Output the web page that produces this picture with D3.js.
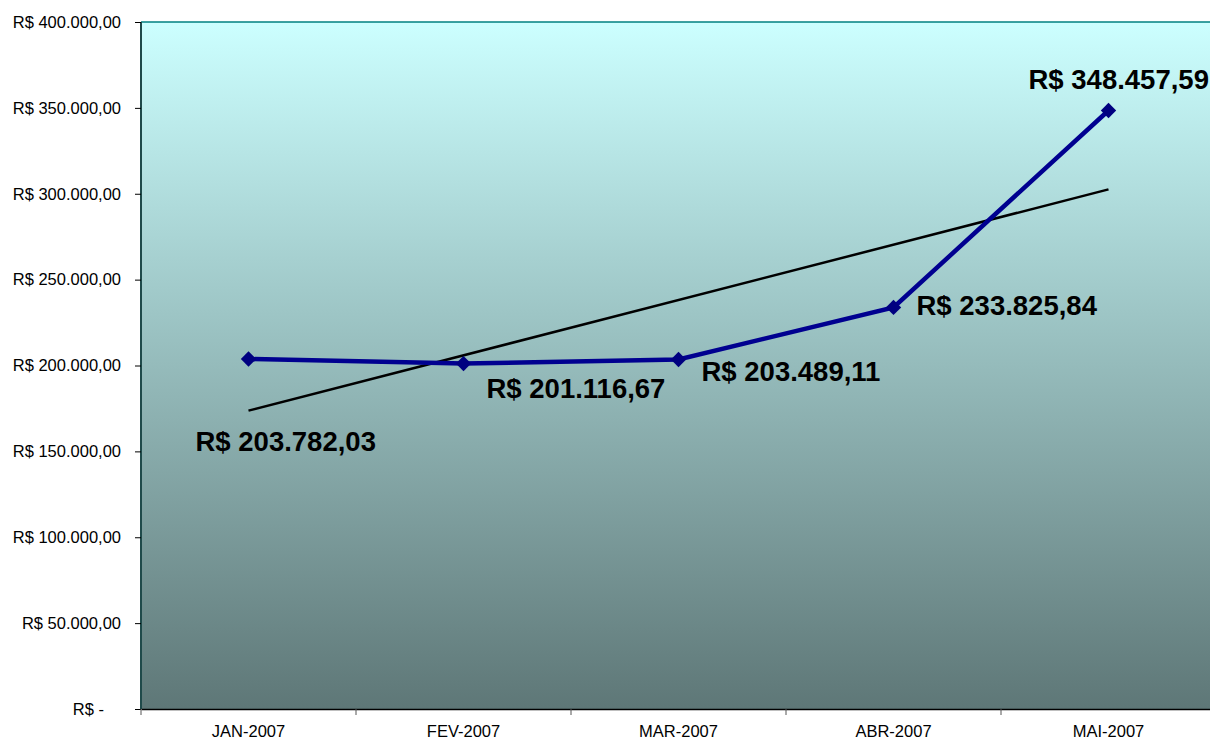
<!DOCTYPE html>
<html>
<head>
<meta charset="utf-8">
<script src="https://cdn.jsdelivr.net/npm/d3@7"></script>
<style>
  body { margin: 0; background: #fff; }
  svg { display: block; font-family: "Liberation Sans", Arial, sans-serif; }
</style>
</head>
<body>
<svg id="chart" width="1210" height="742"></svg>
<script>
// data
var months = ["JAN-2007", "FEV-2007", "MAR-2007", "ABR-2007", "MAI-2007"];
var totals = [203782.03, 201116.67, 203489.11, 233825.84, 348457.59];
var yTicks = [0, 50000, 100000, 150000, 200000, 250000, 300000, 350000, 400000];

// where each value label sits, relative to its point (layout only)
var labelOffsets = [[-53, 92], [23, 34], [23, 21], [23, 8], [-80, -22]];

var svg = d3.select("#chart");
var plotL = 141, plotR = 1216, plotT = 22, plotB = 709;

var x = d3.scaleBand().domain(months).range([plotL, plotR]);
var y = d3.scaleLinear().domain([0, 400000]).range([plotB, plotT]);

// brazilian money format
var br = d3.formatLocale({decimal: ",", thousands: ".", grouping: [3], currency: ["R$ ", ""]});
var money = br.format("$,.2f");
function tickText(v) { return v === 0 ? "R$ -" : money(v); }

// background gradient
var defs = svg.append("defs");
var grad = defs.append("linearGradient").attr("id", "bg")
    .attr("x1", 0).attr("y1", 0).attr("x2", 0).attr("y2", 1);
grad.append("stop").attr("offset", "0%").attr("stop-color", "#ccffff");
grad.append("stop").attr("offset", "100%").attr("stop-color", "#5e7777");

svg.append("rect")
    .attr("x", plotL).attr("y", plotT)
    .attr("width", plotR - plotL).attr("height", plotB - plotT)
    .attr("fill", "url(#bg)");

// top border
svg.append("line")
    .attr("x1", plotL).attr("x2", plotR).attr("y1", plotT).attr("y2", plotT)
    .style("stroke", "#008080").style("stroke-width", 1.5);
// left border
svg.append("line")
    .attr("x1", plotL).attr("x2", plotL).attr("y1", plotT).attr("y2", plotB)
    .style("stroke", "#1f4a4a").style("stroke-width", 2);

// y axis
var yAxis = svg.append("g")
    .attr("transform", "translate(" + plotL + ",0)")
    .call(d3.axisLeft(y).tickValues(yTicks).tickFormat(tickText).tickSize(6).tickPadding(14));
yAxis.select(".domain").remove();
yAxis.selectAll(".tick line").style("stroke", "#000");
yAxis.selectAll("text")
    .style("font-size", "16.5px").style("fill", "#000")
    .attr("dx", function(d) { return d === 0 ? -17 : 0; });

// x axis
var xAxis = svg.append("g")
    .attr("transform", "translate(0," + plotB + ")")
    .call(d3.axisBottom(x).tickSize(0).tickPadding(16));
xAxis.select(".domain").style("stroke", "#000").style("stroke-width", 1.5);
xAxis.selectAll("text").style("font-size", "16.5px").style("fill", "#000");

// category separators
svg.append("g").selectAll("line")
    .data(months)
    .enter().append("line")
    .attr("x1", function(d) { return x(d); })
    .attr("x2", function(d) { return x(d); })
    .attr("y1", plotB).attr("y2", plotB + 6)
    .style("stroke", "#555").style("stroke-width", 1);

var pts = months.map(function(m, i) {
    return {m: m, v: totals[i], cx: x(m) + x.bandwidth() / 2, cy: y(totals[i])};
});

// least squares trend line
var n = totals.length;
var mx = (n + 1) / 2, my = d3.mean(totals);
var sxy = 0, sxx = 0;
totals.forEach(function(v, i) { sxy += (i + 1 - mx) * (v - my); sxx += (i + 1 - mx) * (i + 1 - mx); });
var slope = sxy / sxx, icpt = my - slope * mx;
svg.append("line")
    .attr("x1", pts[0].cx).attr("y1", y(icpt + slope * 1))
    .attr("x2", pts[n - 1].cx).attr("y2", y(icpt + slope * n))
    .style("stroke", "#000").style("stroke-width", 2.5);

// series line
var line = d3.line().x(function(d) { return d.cx; }).y(function(d) { return d.cy; });
svg.append("path")
    .datum(pts)
    .attr("d", line)
    .attr("fill", "none")
    .style("stroke", "#000090").style("stroke-width", 4.5);

// diamond markers
svg.append("g").selectAll("path")
    .data(pts)
    .enter().append("path")
    .attr("transform", function(d) { return "translate(" + d.cx + "," + d.cy + ")"; })
    .attr("d", d3.symbol().type(d3.symbolDiamond2).size(150))
    .attr("fill", "#000080");

// value labels
svg.append("g").selectAll("text")
    .data(pts)
    .enter().append("text")
    .attr("x", function(d, i) { return d.cx + labelOffsets[i][0]; })
    .attr("y", function(d, i) { return d.cy + labelOffsets[i][1]; })
    .style("font-size", "27.5px").style("font-weight", "bold").style("fill", "#000")
    .text(function(d) { return money(d.v); });
</script>
</body>
</html>
